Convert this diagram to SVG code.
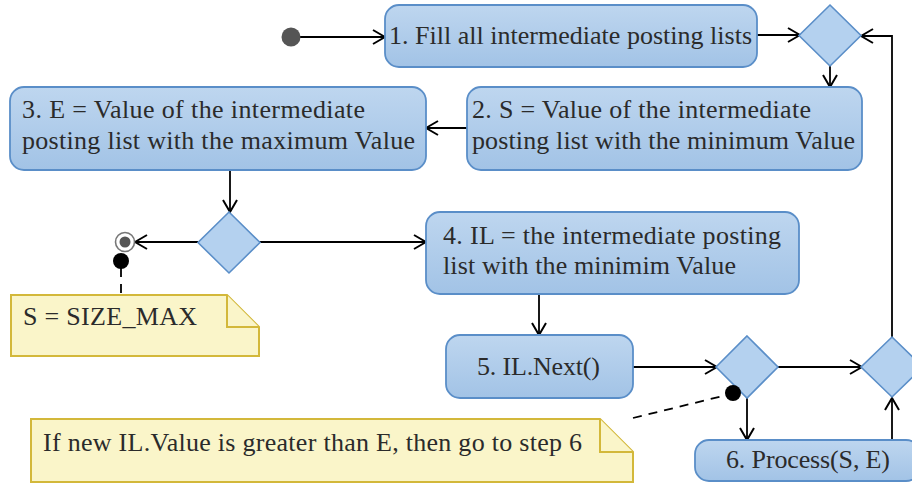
<svg xmlns="http://www.w3.org/2000/svg" width="912" height="484" viewBox="0 0 912 484">
<defs>
<linearGradient id="bg" x1="0" y1="0" x2="0" y2="1">
<stop offset="0" stop-color="#bed6ef"/>
<stop offset="1" stop-color="#a2c3e6"/>
</linearGradient>
<marker id="arr" viewBox="0 0 14 16" refX="13" refY="8" markerWidth="14" markerHeight="16" markerUnits="userSpaceOnUse" orient="auto">
<path d="M1,1 L13,8 L1,15" fill="none" stroke="#000" stroke-width="2"/>
</marker>
</defs>
<style>
.box{fill:url(#bg);stroke:#5a8ec8;stroke-width:1.8}
.dia{fill:#b4d1ef;stroke:#5a8ec8;stroke-width:1.6}
.note{fill:#faf5c9;stroke:#d3b83a;stroke-width:2}
.t{font-size:26px;fill:#2b2b2b}
.c{fill:none;stroke:#000;stroke-width:1.8}
.a{marker-end:url(#arr)}
.d{fill:none;stroke:#000;stroke-width:1.8;stroke-dasharray:9 7}
</style>
<g id="connectors">
<path class="c a" d="M300,37 L385,37"/>
<path class="c a" d="M757,35 L800,35"/>
<path class="c a" d="M830,66 L830,87"/>
<path class="c a" d="M892,337 L892,36 L861,36"/>
<path class="c a" d="M467,128 L426,128"/>
<path class="c a" d="M230,170 L230,212"/>
<path class="c a" d="M198,242 L135,242"/>
<path class="c a" d="M259,242 L426,242"/>
<path class="c a" d="M539,294 L539,335"/>
<path class="c a" d="M633,367 L717,367"/>
<path class="c a" d="M778,367 L862,367"/>
<path class="c a" d="M747,398 L747,440"/>
<path class="c a" d="M892,440 L892,398"/>
<path class="d" d="M121,268 L121,295"/>
<path class="d" d="M633,418 L727,395"/>
</g>
<g id="start"><circle cx="291" cy="37" r="9.5" fill="#555"/></g>
<g font-family="'Liberation Serif', 'Times New Roman', 'DejaVu Serif', serif">
<g id="n1">
<rect class="box" x="385" y="5" width="372" height="62" rx="14"/>
<text class="t" x="389" y="44" textLength="363">1. Fill all intermediate posting lists</text>
</g>
<g id="d1"><polygon class="dia" points="830,5 861,35.5 830,66 799,35.5"/></g>
<g id="n2">
<rect class="box" x="467" y="87" width="395" height="83" rx="14"/>
<text class="t" x="472" y="118" textLength="339">2. S = Value of the intermediate</text>
<text class="t" x="472" y="149" textLength="383">posting list with the minimum Value</text>
</g>
<g id="n3">
<rect class="box" x="10" y="87" width="416" height="83" rx="14"/>
<text class="t" x="22" y="118" textLength="343">3. E = Value of the intermediate</text>
<text class="t" x="22" y="149" textLength="393">posting list with the maximum Value</text>
</g>
<g id="d2"><polygon class="dia" points="229,212 260,242.5 229,273 198,242.5"/></g>
<g id="final">
<circle cx="125" cy="242" r="9.5" fill="#fff" stroke="#777" stroke-width="1.6"/>
<circle cx="125" cy="242" r="5.5" fill="#555"/>
</g>
<g id="note1">
<circle cx="121" cy="261" r="8" fill="#000"/>
<path class="note" d="M11,295 L227,295 L259,327 L259,356 L11,356 Z"/>
<path class="note" d="M227,295 L227,327 L259,327" fill="none"/>
<text class="t" x="23" y="325" textLength="174">S = SIZE_MAX</text>
</g>
<g id="n4">
<rect class="box" x="426" y="212" width="373" height="82" rx="14"/>
<text class="t" x="443" y="244" textLength="338">4. IL = the intermediate posting</text>
<text class="t" x="443" y="274" textLength="293">list with the minimim Value</text>
</g>
<g id="n5">
<rect class="box" x="446" y="335" width="187" height="63" rx="14"/>
<text class="t" x="477" y="375" textLength="123">5. IL.Next()</text>
</g>
<g id="d3"><polygon class="dia" points="747,336 778,367 747,398 716,367"/></g>
<g id="d4"><polygon class="dia" points="892,337 923,367 892,397 861,367"/></g>
<g id="n6">
<rect class="box" x="695" y="440" width="225" height="41" rx="14"/>
<text class="t" x="726" y="468" textLength="164">6. Process(S, E)</text>
</g>
<g id="note2">
<circle cx="733" cy="393" r="8" fill="#000"/>
<path class="note" d="M31,419 L600,419 L633,452 L633,482 L31,482 Z"/>
<path class="note" d="M600,419 L600,452 L633,452" fill="none"/>
<text class="t" x="43" y="451" textLength="539">If new IL.Value is greater than E, then go to step 6</text>
</g>
</g>
</svg>
